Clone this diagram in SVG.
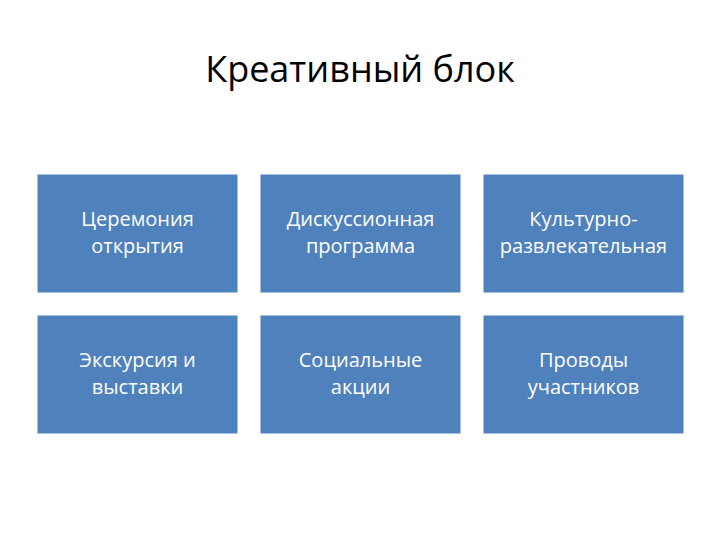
<svg xmlns="http://www.w3.org/2000/svg" width="720" height="540" viewBox="0 0 720 540">
<style>
.b{fill:#4F81BD;stroke:#ffffff;stroke-width:1}
.t{font-family:"Open Sans","Liberation Sans",sans-serif;font-size:20px;fill:#ffffff;text-anchor:middle}
.h{font-family:"Open Sans","Liberation Sans",sans-serif;font-size:36px;fill:#000000;text-anchor:middle}
</style>
<rect width="720" height="540" fill="#ffffff"/>
<text class="h" x="360" y="82">Креативный блок</text>
<g id="n1"><rect class="b" x="37" y="174" width="201" height="119"/><text class="t" x="137.5" y="226">Церемония</text><text class="t" x="137.5" y="253">открытия</text></g>
<g id="n2"><rect class="b" x="260" y="174" width="201" height="119"/><text class="t" x="360.5" y="226">Дискуссионная</text><text class="t" x="360.5" y="253">программа</text></g>
<g id="n3"><rect class="b" x="483" y="174" width="201" height="119"/><text class="t" x="583.5" y="226">Культурно-</text><text class="t" x="583.5" y="253">развлекательная</text></g>
<g id="n4"><rect class="b" x="37" y="315" width="201" height="119"/><text class="t" x="137.5" y="367">Экскурсия и</text><text class="t" x="137.5" y="394">выставки</text></g>
<g id="n5"><rect class="b" x="260" y="315" width="201" height="119"/><text class="t" x="360.5" y="367">Социальные</text><text class="t" x="360.5" y="394">акции</text></g>
<g id="n6"><rect class="b" x="483" y="315" width="201" height="119"/><text class="t" x="583.5" y="367">Проводы</text><text class="t" x="583.5" y="394">участников</text></g>
<g id="connectors"/>
</svg>
